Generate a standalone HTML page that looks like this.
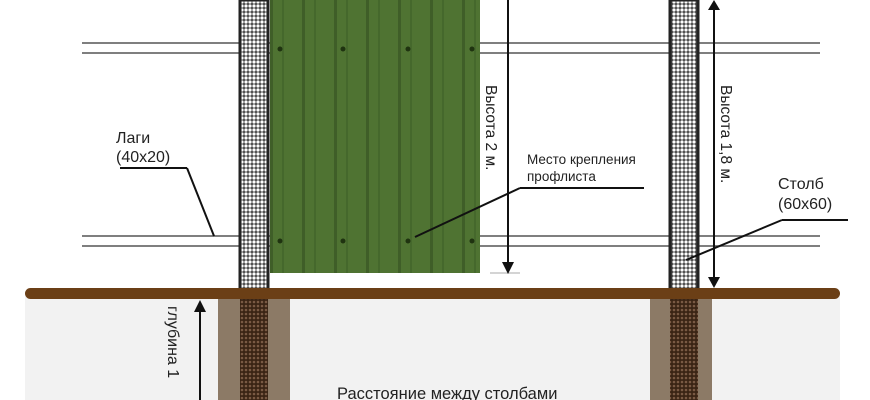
<!DOCTYPE html>
<html><head><meta charset="utf-8"><style>
html,body{margin:0;padding:0;background:#fff;width:870px;height:400px;overflow:hidden}
svg text{font-family:"Liberation Sans","DejaVu Sans",sans-serif;fill:#222}
</style></head><body>
<svg width="870" height="400" viewBox="0 0 870 400" xmlns="http://www.w3.org/2000/svg">
<defs>
<pattern id="hatch" width="4" height="4" patternUnits="userSpaceOnUse">
<rect width="4" height="4" fill="#444"/><circle cx="2" cy="2" r="1.6" fill="#fff"/>
</pattern>
<pattern id="hatchd" width="4" height="4" patternUnits="userSpaceOnUse">
<rect width="4" height="4" fill="#3a2414"/><circle cx="2" cy="2" r="1.3" fill="#7a5a44"/>
</pattern>
<pattern id="ribs" width="32" height="10" patternUnits="userSpaceOnUse" x="270">
<rect width="32" height="10" fill="#4f7332"/>
<rect x="0" width="3" height="10" fill="#3f5e28"/>
<rect x="12" width="2" height="10" fill="#45682c"/>
</pattern>
</defs>
<rect x="25" y="296" width="815" height="104" fill="#f2f2f2"/>
<rect x="218" y="296" width="72" height="104" fill="#8c7a66"/>
<rect x="650" y="296" width="62" height="104" fill="#8c7a66"/>
<g stroke="#555" stroke-width="1.5">
<line x1="82" y1="43" x2="820" y2="43"/><line x1="82" y1="53" x2="820" y2="53"/>
<line x1="82" y1="236" x2="820" y2="236"/><line x1="82" y1="246" x2="820" y2="246"/>
</g>
<rect x="270" y="0" width="210" height="273" fill="url(#ribs)"/>
<g fill="#1f3310">
<circle cx="280" cy="49" r="2.5"/><circle cx="343" cy="49" r="2.5"/><circle cx="408" cy="49" r="2.5"/><circle cx="472" cy="49" r="2.5"/>
<circle cx="280" cy="241" r="2.5"/><circle cx="343" cy="241" r="2.5"/><circle cx="408" cy="241" r="2.5"/><circle cx="472" cy="241" r="2.5"/>
</g>
<rect x="240" y="0" width="28" height="296" fill="url(#hatch)" stroke="#222" stroke-width="3"/>
<rect x="670" y="0" width="28" height="296" fill="url(#hatch)" stroke="#222" stroke-width="3"/>
<rect x="240" y="296" width="28" height="104" fill="url(#hatchd)"/>
<rect x="670" y="296" width="28" height="104" fill="url(#hatchd)"/>
<rect x="25" y="288" width="815" height="11" rx="5.5" fill="#6b3f16"/>
<g stroke="#111" stroke-width="2" fill="none">
<line x1="508" y1="0" x2="508" y2="268"/>
<line x1="714" y1="4" x2="714" y2="283"/>
<line x1="200" y1="310" x2="200" y2="400"/>
<line x1="120" y1="168" x2="187" y2="168"/><line x1="187" y1="168" x2="214" y2="236"/>
<line x1="520" y1="188" x2="644" y2="188"/><line x1="520" y1="188" x2="415" y2="237"/>
<line x1="782" y1="220" x2="848" y2="220"/><line x1="782" y1="220" x2="686" y2="260"/>
</g>
<line x1="490" y1="273" x2="520" y2="273" stroke="#aaa" stroke-width="1"/>
<g fill="#111">
<polygon points="502,262 514,262 508,274"/>
<polygon points="708,10 720,10 714,0"/>
<polygon points="708,277 720,277 714,288"/>
<polygon points="194,312 206,312 200,300"/>
</g>
<text x="116" y="143" font-size="16">Лаги</text>
<text x="116" y="162" font-size="16">(40x20)</text>
<text x="527" y="164" font-size="13.5">Место крепления</text>
<text x="527" y="181" font-size="13.5">профлиста</text>
<text x="778" y="189" font-size="16">Столб</text>
<text x="778" y="209" font-size="16">(60x60)</text>
<text transform="translate(486,85) rotate(90)" font-size="15.5">Высота 2 м.</text>
<text transform="translate(721,85) rotate(90)" font-size="15.5">Высота 1,8 м.</text>
<text transform="translate(168,306) rotate(90)" font-size="16">глубина 1</text>
<text x="337" y="399" font-size="16.5">Расстояние между столбами</text>
</svg>
</body></html>
